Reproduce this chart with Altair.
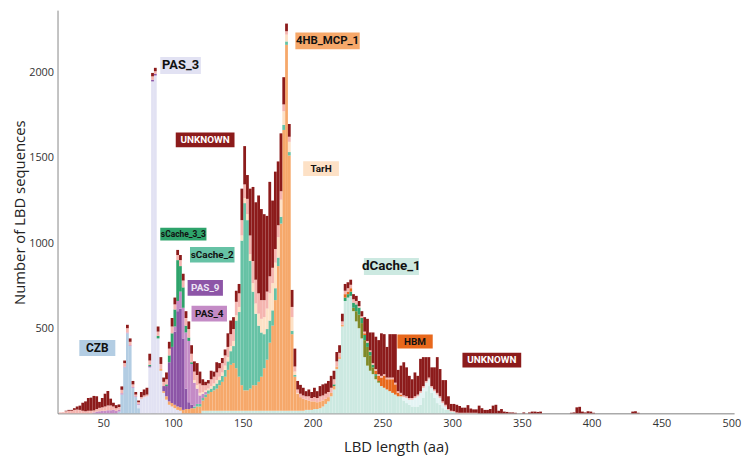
import altair as alt
import pandas as pd

BIN = 2  # LBD length bin width (aa)

# ---- stacked histogram series (counts per 2-aa bin, starting at *_start) ----
unknown_start = 18
unknown = [
    0, 0, 3, 5, 5, 10, 18, 25, 47, 58,            # 18-36
    75, 77, 85, 75, 35, 55, 75, 85, 40, 22,       # 38-56
    18, 15, 20, 15, 20, 20, 20, 15, 10, 30,       # 58-76
    35, 40, 40, 20, 20, 30, 40, 25, 40, 40,       # 78-96
    50, 40, 30, 30, 40, 40, 45, 50, 60, 70,       # 98-116
    70, 35, 20, 20, 50, 30, 60, 30, 30, 35,       # 118-136
    80, 80, 70, 65, 55, 185, 225, 140, 275, 435,  # 138-156
    455, 575, 535, 505, 445, 555, 395, 455, 375, 340,  # 158-176
    160, 45, 75, 100, 105, 50, 52, 45, 30, 40,    # 178-196
    35, 55, 40, 60, 65, 60, 65, 70, 50, 55,       # 198-216
    45, 45, 40, 35, 30, 30, 30, 30, 30, 85,       # 218-236
    130, 105, 180, 190, 200, 250, 235, 180, 255, 255,  # 238-256
    285, 125, 160, 195, 170, 130, 110, 140, 110, 190,  # 258-276
    170, 140, 120, 110, 130, 210, 160, 125, 145, 75,   # 278-296
    40, 42, 45, 40, 30, 30, 45, 25, 20, 20,       # 298-316
    45, 30, 20, 20, 25, 45, 50, 15, 25, 10,       # 318-336
    8, 5, 5, 3, 0, 0, 5, 0, 5, 10,                # 338-356
    10, 8, 10, 0, 0, 0, 0, 0, 0, 0,               # 358-376
    0, 0, 0, 3, 5, 35, 38, 10, 5, 12,             # 378-396
    10, 3, 0, 0, 0, 0, 0, 0, 0, 0,                # 398-416
    0, 0, 0, 0, 0, 10, 12, 3, 0, 0,               # 418-436
]

other_start = 18
other = [
    5, 6, 12, 15, 15, 20, 22, 20, 15, 12,
    15, 15, 12, 15, 20, 20, 25, 28, 28, 20,
    15, 15, 20, 20, 25, 20, 15, 10, 10, 10,
    10, 10, 25, 20, 15, 25, 30, 25, 30, 40,
    40, 30, 30, 35, 40, 45, 50, 50, 50, 60,
    55, 40, 30, 30, 40, 40, 45, 50, 55, 60,
    60, 70, 70, 80, 80, 90, 80, 90, 110, 130,
    140, 120, 110, 100, 100, 100, 90, 80, 70, 50,
    40, 20, 30, 60, 30, 20, 20, 20, 20, 25,
    20, 25, 25, 30, 30, 30, 30, 30, 30, 30,
    25, 20, 20, 20, 20, 20, 20, 10, 10, 10,
    10, 10, 10, 10, 10, 10, 10, 10, 10, 10,
    10, 10, 10, 10, 10, 10, 10, 10, 10, 10,
    10, 10, 10, 10, 10, 10, 10, 10, 10, 5,
    5, 5, 5, 3, 3, 3, 3, 3, 3, 3,
]

dcache1_start = 120
dcache1 = [
    15, 15, 15, 15, 15, 15, 15, 15, 15,
    15, 15, 15, 15, 15, 15, 15, 15, 15, 15,
    15, 15, 15, 15, 15, 15, 15, 15, 15, 15,
    15, 15, 15, 15, 15, 15, 15, 15, 20, 20,
    20, 25, 25, 30, 40, 55, 70, 100, 140, 260,
    320, 510, 660, 680, 690, 600, 540, 500, 440, 330,
    280, 250, 230, 200, 180, 160, 150, 140, 130, 120,
    110, 100, 100, 75, 60, 50, 40, 40, 40, 50,
    90, 130, 160, 120, 90, 60, 50, 30, 20, 20, 10, 8,
]

dcache_pale_start = 264
dcache_pale = [20, 30, 30, 40, 50, 60, 70, 60, 50, 40, 30, 40, 50, 40, 30, 20]

mcp_start = 90
mcp = [
    10, 10, 20, 20, 20, 20, 20, 20, 20, 25, 25, 30, 30, 40,
    40, 60, 80, 100, 110, 120, 130, 150, 170, 200,
    240, 270, 280, 250, 200, 150, 120, 120, 130, 150,
    150, 170, 200, 250, 300, 400, 500, 650, 850, 1100,
    1650, 2150, 1500, 450, 200, 100, 80, 70, 60, 55,
    50, 45, 40, 40, 35, 30, 25, 20, 20, 15,
    10, 10,
]

scache2_start = 114
scache2 = [
    10, 15, 15, 15, 15, 20, 20, 25, 30, 30,
    35, 40, 50, 80, 100, 280, 380, 850, 1100, 1000,
    750, 550, 420, 330, 260, 200, 180, 130, 90, 70,
    50, 40, 30, 20, 20, 20, 10,
]

tarh_start = 114
tarh = [
    15, 20, 15, 10, 10, 10, 15, 15, 20, 20,
    20, 25, 25, 30, 30, 30, 30, 30, 30, 35,
    40, 50, 60, 70, 80, 100, 120, 160, 160, 150,
    120, 100, 80, 40, 60, 80, 20, 5,
]

czb_start = 60
czb = [10, 110, 270, 470, 395, 150, 95, 30]

pas3_start = 74
pas3 = [20, 85, 95, 100, 270, 1950, 1985, 440, 250, 120, 80, 50, 40, 30, 20, 15]

pas9_start = 82
pas9 = [7, 10, 10, 0, 0, 30, 60, 230, 330, 430, 560, 580, 420, 120, 40, 20]

pas4_start = 42
pas4 = [
    5, 10, 12, 15, 15, 18, 18, 20, 15, 12,
    8, 5, 5, 5, 5, 5, 5, 0, 0, 0,
    0, 0, 0, 0, 0, 0, 0, 0, 0, 30,
    60, 100, 180, 330, 360, 240, 140, 90, 50, 25,
    15,
]

scache33_a_start = 82
scache33_a = [8, 0, 0, 15, 0, 0, 10, 40, 80, 100, 240, 150, 120, 40, 20, 10]
scache33_b_start = 214
scache33_b = [10, 0, 0, 0, 20, 20, 25, 30, 40, 40, 30, 30, 25, 20, 15, 10]

hbm_start = 222
hbm = [20, 15, 20, 0, 0, 0, 0, 10, 0, 0, 0, 20, 30, 50, 70, 60, 70, 80, 60, 20, 10]

olive_start = 228
olive = [20, 60, 80, 90, 100, 110, 90, 40, 20, 10]

# stacking order bottom -> top
series = [
    ("dCache_1", dcache1_start, dcache1),
    ("dCache_other", dcache_pale_start, dcache_pale),
    ("CZB", czb_start, czb),
    ("PAS_3", pas3_start, pas3),
    ("4HB_MCP_1", mcp_start, mcp),
    ("sCache_2", scache2_start, scache2),
    ("PAS_9", pas9_start, pas9),
    ("PAS_4", pas4_start, pas4),
    ("Cache_other", olive_start, olive),
    ("sCache_3_3", scache33_a_start, scache33_a),
    ("sCache_3_3", scache33_b_start, scache33_b),
    ("HBM", hbm_start, hbm),
    ("TarH", tarh_start, tarh),
    ("Other", other_start, other),
    ("UNKNOWN", unknown_start, unknown),
]
cat_names = ["dCache_1", "dCache_other", "CZB", "PAS_3", "4HB_MCP_1", "sCache_2", "PAS_9",
             "PAS_4", "Cache_other", "sCache_3_3", "HBM", "TarH", "Other", "UNKNOWN"]
cat_colors = ["#cce9e1", "#e4f4f4", "#b3cde3", "#e2e2f3", "#f6a86a", "#66c2a5", "#8d55a7",
              "#c48bc6", "#7f8a28", "#2ea36b", "#e8681c", "#fde1c6", "#f5b5b0", "#8c1b1b"]

rows = []
for name, start, vals in series:
    order = cat_names.index(name)
    for i, v in enumerate(vals):
        if v > 0:
            a = start + BIN * i
            rows.append({"cat": name, "start": a, "end": a + BIN, "count": v, "order": order})
df = pd.DataFrame(rows)

# ---- annotation boxes (data units) ----
ann_label = ["PAS_3", "4HB_MCP_1", "UNKNOWN", "TarH", "sCache_3_3", "sCache_2", "PAS_9",
             "PAS_4", "CZB", "dCache_1", "HBM", "UNKNOWN"]
ann_x0 = [90.9, 187.7, 102.0, 193.3, 90.9, 112.2, 110.5, 113.3, 32.9, 236.8, 260.8, 307.4]
ann_x1 = [120.0, 233.8, 144.1, 218.9, 124.0, 144.1, 135.8, 138.7, 58.7, 276.2, 286.1, 349.5]
ann_y0 = [1994, 2139, 1563, 1394, 1016, 886, 690, 540, 336, 812, 380, 269]
ann_y1 = [2093, 2238, 1650, 1481, 1090, 977, 783, 632, 430, 913, 463, 356]
ann_fill = ["#e2e2f3", "#f6a86a", "#8c1b1b", "#fde1c6", "#2ea36b", "#66c2a5", "#8d55a7",
            "#c48bc6", "#b3cde3", "#cce9e1", "#e8681c", "#8c1b1b"]
ann_tcolor = ["#111111", "#111111", "#ffffff", "#111111", "#111111", "#111111", "#ece4f4",
              "#111111", "#111111", "#111111", "#111111", "#ffffff"]
ann_fs = [13, 11.5, 10, 10, 8.5, 10, 10, 10, 12, 13.5, 10, 10]

ann = pd.DataFrame({
    "label": ann_label, "x0": ann_x0, "x1": ann_x1, "y0": ann_y0, "y1": ann_y1,
    "fill": ann_fill, "tcolor": ann_tcolor, "fs": ann_fs,
})
ann["xc"] = (ann["x0"] + ann["x1"]) / 2
ann["yc"] = (ann["y0"] + ann["y1"]) / 2

XT = "LBD length (aa)"
YT = "Number of LBD sequences"
xscale = alt.Scale(domain=[17.3, 502], nice=False, zero=False)
yscale = alt.Scale(domain=[0, 2369], nice=False)

xaxis = alt.Axis(values=[50, 100, 150, 200, 250, 300, 350, 400, 450, 500], ticks=False,
                 grid=False, domainColor="#aaaaaa", domainWidth=1.6, labelFont="Open Sans",
                 labelFontSize=11, labelColor="#333333", labelPadding=4, format="d",
                 titleFont="Open Sans", titleFontSize=15, titleFontWeight="normal",
                 titleColor="#222222", titleBaseline="middle", titleY=34)
yaxis = alt.Axis(values=[500, 1000, 1500, 2000], ticks=False, grid=False,
                 domainColor="#888888", domainWidth=1, labelFont="Open Sans",
                 labelFontSize=11, labelColor="#333333", labelPadding=4, format="d",
                 titleFont="Open Sans", titleFontSize=15, titleFontWeight="normal",
                 titleColor="#222222", titleBaseline="middle", titleX=-38, titleY=204)

bars = alt.Chart(df).mark_bar(binSpacing=0, strokeWidth=0).encode(
    x=alt.X("start:Q", bin="binned", scale=xscale, axis=xaxis, title=XT),
    x2="end:Q",
    y=alt.Y("count:Q", stack="zero", scale=yscale, axis=yaxis, title=YT),
    color=alt.Color("cat:N", scale=alt.Scale(domain=cat_names, range=cat_colors), legend=None),
    order=alt.Order("order:Q", sort="ascending"),
)

boxes = alt.Chart(ann).mark_rect().encode(
    x=alt.X("x0:Q", scale=xscale, title=XT),
    x2="x1:Q",
    y=alt.Y("y0:Q", scale=yscale, title=YT),
    y2="y1:Q",
    fill=alt.Fill("fill:N", scale=None),
)

texts = alt.Chart(ann).mark_text(font="Roboto", fontWeight="bold", baseline="middle",
                                 align="center").encode(
    x=alt.X("xc:Q", scale=xscale, title=XT),
    y=alt.Y("yc:Q", scale=yscale, title=YT),
    text="label:N",
    color=alt.Color("tcolor:N", scale=None),
    size=alt.Size("fs:Q", scale=None),
)

chart = alt.layer(bars, boxes, texts).properties(
    width=683, height=407, autosize="none",
    padding={"left": 50, "top": 0, "right": 8, "bottom": 45},
).configure_view(stroke=None)

chart.save("out.html", embed_options={"renderer": "svg", "actions": False})
